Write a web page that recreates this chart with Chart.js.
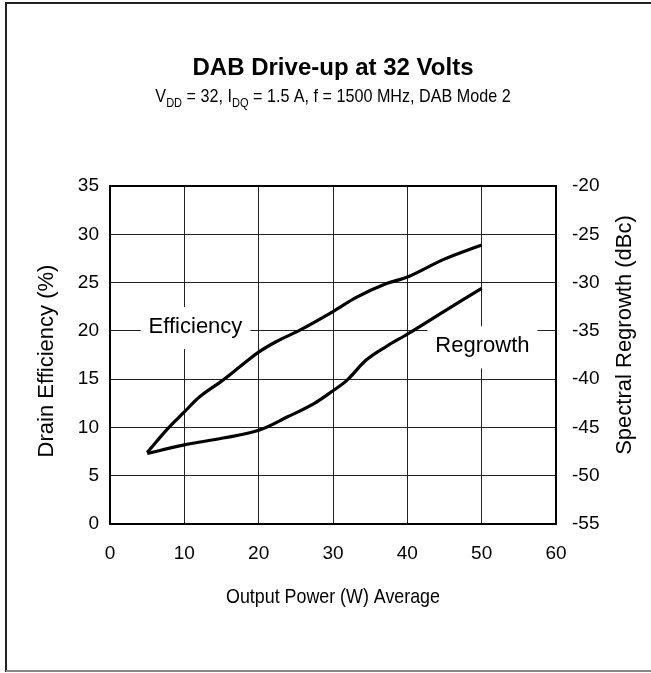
<!DOCTYPE html>
<html>
<head>
<meta charset="utf-8">
<script src="https://cdn.jsdelivr.net/npm/chart.js@4.4.1/dist/chart.umd.min.js"></script>
<style>
  html, body { margin: 0; padding: 0; background: #fff; }
  #wrap { width: 651px; height: 673px; position: relative; }
</style>
</head>
<body>
<div id="wrap"><canvas id="c" width="651" height="673"></canvas></div>
<script>
// ---- data ----
const chartTitle = "DAB Drive-up at 32 Volts";
const subtitleParts = [
  { text: "V" }, { text: "DD", sub: true },
  { text: " = 32, I" }, { text: "DQ", sub: true },
  { text: " = 1.5 A, f = 1500 MHz, DAB Mode 2" }
];
const xTitle = "Output Power (W) Average";
const yLeftTitle = "Drain Efficiency (%)";
const yRightTitle = "Spectral Regrowth (dBc)";
const seriesNames = ["Efficiency", "Regrowth"];

const effPower = [5, 7.8, 10, 12.1, 15.2, 17.5, 20, 22.4, 25.6, 30, 33.2, 37.2, 40.1, 44.9, 50];
const effValues = [7.4, 9.9, 11.6, 13.2, 14.9, 16.3, 17.8, 18.9, 20.1, 22.0, 23.5, 24.9, 25.6, 27.4, 28.9];

const regPower = [5, 10, 15.2, 20, 23.9, 27.5, 30, 31.9, 34.5, 37.2, 40.1, 44.9, 50];
const regValues = [-47.7, -46.8, -46.1, -45.3, -43.9, -42.5, -41.2, -40.1, -38.0, -36.6, -35.3, -33.0, -30.6];

const xRange = [0, 60, 10];
const yLeftRange = [0, 35, 5];
const yRightRange = [-55, -20, 5];

// label anchor positions (data coords) for in-plot series labels
const effLabelAt = { x: 11.5, y: 20.5 };
const regLabelAt = { x: 50.1, y: -36.5 };

// ---- styling ----
const FONT = '"Liberation Sans", Arial, Helvetica, sans-serif';
const TICK_SIZE = 19;
const XTITLE_SIZE = 21;
const YTITLE_SIZE = 22;
const CONDENSE = 0.85;

function toPts(xs, ys) { return xs.map((x, i) => ({ x: x, y: ys[i] })); }

const framePlugin = {
  id: 'frame',
  beforeDraw(chart) {
    const ctx = chart.ctx;
    ctx.save();
    ctx.fillStyle = '#fff';
    ctx.fillRect(0, 0, chart.width, chart.height);
    ctx.lineWidth = 2;
    ctx.strokeStyle = '#222';
    ctx.beginPath();
    ctx.moveTo(6, 672); ctx.lineTo(6, 3); ctx.lineTo(chart.width + 5, 3);
    ctx.stroke();
    ctx.strokeStyle = '#888';
    ctx.beginPath();
    ctx.moveTo(6, 671); ctx.lineTo(chart.width + 5, 671);
    ctx.stroke();
    ctx.restore();
  }
};

const labelsPlugin = {
  id: 'seriesLabels',
  beforeDatasetsDraw(chart) {
    const ctx = chart.ctx;
    const xs = chart.scales.x, yl = chart.scales.y, yr = chart.scales.y2;
    ctx.save();
    ctx.font = '22px ' + FONT;
    ctx.textAlign = 'center';
    ctx.textBaseline = 'middle';
    const items = [
      { t: seriesNames[0], px: xs.getPixelForValue(effLabelAt.x), py: yl.getPixelForValue(effLabelAt.y) },
      { t: seriesNames[1], px: xs.getPixelForValue(regLabelAt.x), py: yr.getPixelForValue(regLabelAt.y) }
    ];
    items.forEach(it => {
      const w = ctx.measureText(it.t).width;
      ctx.fillStyle = '#fff';
      ctx.fillRect(it.px - w / 2 - 8, it.py - 19, w + 16, 42);
      ctx.fillStyle = '#000';
      ctx.fillText(it.t, it.px, it.py + 1);
    });
    ctx.restore();
  },
  afterDraw(chart) {
    const ctx = chart.ctx;
    const a = chart.chartArea;
    ctx.save();
    // plot border
    ctx.strokeStyle = '#000';
    ctx.lineWidth = 2;
    ctx.strokeRect(a.left, a.top, a.right - a.left, a.bottom - a.top);
    // titles
    const cx = (a.left + a.right) / 2;
    ctx.fillStyle = '#000';
    ctx.textBaseline = 'alphabetic';
    ctx.textAlign = 'center';
    ctx.font = 'bold 24px ' + FONT;
    ctx.fillText(chartTitle, cx, 75);
    // subtitle with subscripts (slightly condensed)
    const mainF = '19px ' + FONT, subF = '13px ' + FONT;
    let total = 0;
    subtitleParts.forEach(p => { ctx.font = p.sub ? subF : mainF; total += ctx.measureText(p.text).width; });
    ctx.save();
    ctx.translate(cx, 0);
    ctx.scale(CONDENSE, 1);
    let x = -total / 2;
    ctx.textAlign = 'left';
    subtitleParts.forEach(p => {
      ctx.font = p.sub ? subF : mainF;
      ctx.fillText(p.text, x, p.sub ? 107 : 102);
      x += ctx.measureText(p.text).width;
    });
    ctx.restore();
    // x axis title (slightly condensed)
    ctx.save();
    ctx.translate(cx, 597);
    ctx.scale(CONDENSE, 1);
    ctx.textAlign = 'center';
    ctx.textBaseline = 'middle';
    ctx.font = XTITLE_SIZE + 'px ' + FONT;
    ctx.fillText(xTitle, 0, 0);
    ctx.restore();
    // y axis titles (both read bottom-to-top)
    const mid = (a.top + a.bottom) / 2;
    ctx.textAlign = 'center';
    ctx.textBaseline = 'middle';
    ctx.font = YTITLE_SIZE + 'px ' + FONT;
    ctx.save();
    ctx.translate(47, mid + 6);
    ctx.rotate(-Math.PI / 2);
    ctx.fillText(yLeftTitle, 0, 0);
    ctx.restore();
    ctx.save();
    ctx.translate(625, mid - 20);
    ctx.rotate(-Math.PI / 2);
    ctx.fillText(yRightTitle, 0, 0);
    ctx.restore();
    ctx.restore();
  }
};

new Chart(document.getElementById('c'), {
  type: 'line',
  data: {
    datasets: [
      { label: seriesNames[0], data: toPts(effPower, effValues), yAxisID: 'y',
        borderColor: '#000', borderWidth: 3.2, pointRadius: 0, tension: 0.35, fill: false },
      { label: seriesNames[1], data: toPts(regPower, regValues), yAxisID: 'y2',
        borderColor: '#000', borderWidth: 3.2, pointRadius: 0, tension: 0.35, fill: false }
    ]
  },
  options: {
    responsive: false,
    animation: false,
    devicePixelRatio: 1,
    layout: { padding: { top: 186, left: 0, right: 0, bottom: 0 } },
    plugins: { legend: { display: false }, tooltip: { enabled: false }, title: { display: false } },
    scales: {
      x: {
        type: 'linear', position: 'bottom',
        min: xRange[0], max: xRange[1],
        ticks: { stepSize: xRange[2], color: '#000', padding: 18, font: { family: FONT, size: TICK_SIZE } },
        grid: { color: '#222', lineWidth: 1, drawTicks: false },
        border: { display: true, color: '#000', width: 2 },
        afterFit(s) { s.height = 149; }
      },
      y: {
        type: 'linear', position: 'left',
        min: yLeftRange[0], max: yLeftRange[1],
        ticks: { stepSize: yLeftRange[2], color: '#000', padding: 11, font: { family: FONT, size: TICK_SIZE } },
        grid: { color: '#222', lineWidth: 1, drawTicks: false },
        border: { display: true, color: '#000', width: 2 },
        afterFit(s) { s.width = 110; }
      },
      y2: {
        type: 'linear', position: 'right',
        min: yRightRange[0], max: yRightRange[1],
        ticks: { stepSize: yRightRange[2], color: '#000', padding: 16, font: { family: FONT, size: TICK_SIZE } },
        grid: { display: false, drawTicks: false },
        border: { display: true, color: '#000', width: 2 },
        afterFit(s) { s.width = 95; }
      }
    }
  },
  plugins: [framePlugin, labelsPlugin]
});
</script>
</body>
</html>
